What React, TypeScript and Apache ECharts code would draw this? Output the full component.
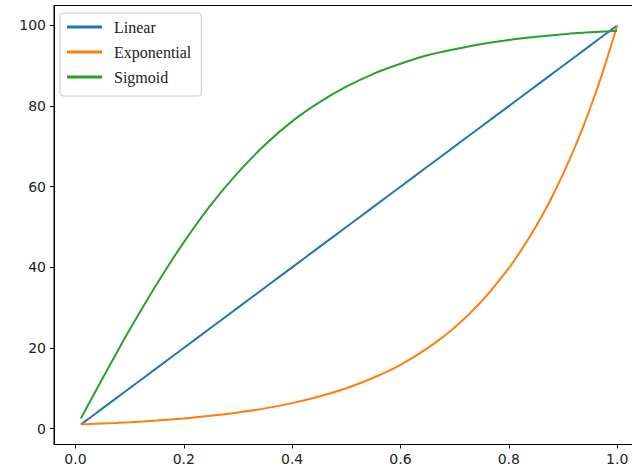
import React, { useEffect, useRef } from "react";
import * as echarts from "echarts";

const xValues = [0.01, 0.025, 0.05, 0.075, 0.1, 0.15, 0.2, 0.25, 0.3, 0.35, 0.4, 0.45, 0.5, 0.55, 0.6, 0.65, 0.7, 0.75, 0.8, 0.825, 0.85, 0.875, 0.9, 0.925, 0.95, 0.975, 1.0];
const linearValues = [1, 2.5, 5, 7.5, 10, 15, 20, 25, 30, 35, 40, 45, 50, 55, 60, 65, 70, 75, 80, 82.5, 85, 87.5, 90, 92.5, 95, 97.5, 100];
const exponentialValues = [1.05, 1.12, 1.26, 1.41, 1.58, 2.0, 2.51, 3.16, 3.98, 5.01, 6.31, 7.94, 10.0, 12.6, 15.8, 19.95, 25.1, 31.6, 39.8, 44.7, 50.1, 56.2, 63.1, 70.8, 79.4, 89.1, 100];
const sigmoidValues = [2.5, 6.2, 12.4, 18.5, 24.5, 35.8, 46.2, 55.5, 63.5, 70.4, 76.2, 80.9, 84.8, 88.0, 90.5, 92.6, 94.1, 95.4, 96.4, 96.8, 97.2, 97.5, 97.8, 98.1, 98.3, 98.5, 98.7];
const seriesNames = ["Linear", "Exponential", "Sigmoid"];
const seriesColors = ["#1f77b4", "#ff7f0e", "#2ca02c"];
const xTicks = [0, 0.2, 0.4, 0.6, 0.8, 1.0];
const yTicks = [0, 20, 40, 60, 80, 100];

export default function App() {
  const ref = useRef<HTMLDivElement>(null);
  useEffect(() => {
    if (!ref.current) return;
    const chart = echarts.init(ref.current, null, { renderer: "svg" });
    const allSeries = [linearValues, exponentialValues, sigmoidValues];
    const axisLabelStyle = { fontFamily: "DejaVu Sans", fontSize: 14, color: "#222" };
    chart.setOption({
      animation: false,
      backgroundColor: "#fff",
      grid: {
        left: 54,
        top: 5.5,
        width: 590,
        height: 439,
        show: true,
        borderColor: "#000",
        borderWidth: 1,
        backgroundColor: "transparent",
        containLabel: false,
        outerBoundsMode: "none",
      },
      legend: {
        orient: "vertical",
        left: 60,
        top: 13,
        padding: [5, 10, 10, 7],
        itemGap: 7,
        itemWidth: 35,
        itemHeight: 3,
        icon: "rect",
        borderColor: "#cccccc",
        borderWidth: 1,
        borderRadius: 3,
        backgroundColor: "rgba(255,255,255,0.8)",
        textStyle: {
          fontFamily: "Liberation Serif",
          fontSize: 16,
          lineHeight: 18,
          color: "#222",
          padding: [0, 0, 0, 7],
        },
        data: seriesNames,
      },
      xAxis: {
        type: "value",
        min: -0.0395,
        max: 1.0495,
        splitLine: { show: false },
        axisLine: { show: true, onZero: false, lineStyle: { color: "#000", width: 1 } },
        axisTick: { show: true, length: 4, customValues: xTicks, lineStyle: { color: "#000" } },
        axisLabel: {
          ...axisLabelStyle,
          margin: 7,
          customValues: xTicks,
          formatter: (v: number) => v.toFixed(1),
        },
      },
      yAxis: {
        type: "value",
        min: -3.95,
        max: 104.95,
        splitLine: { show: false },
        axisLine: { show: true, onZero: false, lineStyle: { color: "#000", width: 1 } },
        axisTick: { show: true, length: 4, customValues: yTicks, lineStyle: { color: "#000" } },
        axisLabel: {
          ...axisLabelStyle,
          margin: 8,
          customValues: yTicks,
          formatter: (v: number) => String(Math.round(v)),
        },
      },
      series: seriesNames.map((name, i) => ({
        name,
        type: "line",
        data: xValues.map((x, j) => [x, allSeries[i][j]]),
        smooth: 0.3,
        symbol: "none",
        color: seriesColors[i],
        lineStyle: { width: 2, color: seriesColors[i] },
      })),
    });
    return () => chart.dispose();
  }, []);
  return (
    <div
      ref={ref}
      style={{ position: "absolute", left: 0, top: 0, width: 632, height: 475 }}
    />
  );
}
